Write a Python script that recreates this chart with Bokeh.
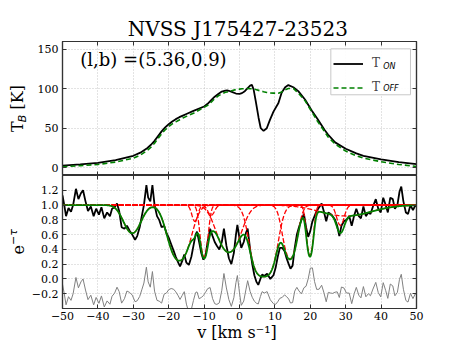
import numpy as np
from bokeh.plotting import figure
from bokeh.layouts import column, row
from bokeh.models import (Label, Legend, LegendItem, LinearAxis, FixedTicker,
                          CustomJSTickFormatter, Range1d, BoxAnnotation)
from bokeh.embed import file_html
from bokeh.resources import INLINE

# ---------------- data ----------------
title_text = "NVSS J175427-23523"
coord_text = "(l,b) =(5.36,0.9)"

# emission spectra (top panel)
v_em = [-50, -45, -40, -35, -30, -28, -26, -25, -24, -23, -22, -21, -20, -19, -18, -17,
        -16, -15, -13, -10, -9, -8, -7, -6, -5, -4, -3.5, -3, -2, -1, 0, 0.7, 1.5, 2.1,
        3, 3.5, 4, 4.6, 5.4, 6, 6.8, 7.7, 8.6, 9.6, 11, 11.9, 12.9, 13.8, 15.2, 16.6,
        18.5, 20.4, 22, 24, 25, 27, 30, 33, 35, 40, 45, 50]
t_on = [2.5, 4, 6, 9.5, 15, 19, 25, 29, 34, 40, 46, 51, 55, 58.5, 61.5, 64,
        66, 68, 72, 77.5, 81, 85.5, 90, 93.5, 96.5, 97.8, 98, 97.5, 95.8, 94, 93.5, 94.5, 97, 100,
        104, 105, 99, 84, 63, 50, 46.6, 50, 60.6, 71, 82, 95, 102, 104.7, 102, 97,
        86.4, 72.5, 62, 48, 42, 32, 24, 18, 15, 10.5, 7, 4.5]
t_off = [1, 2.5, 4, 7, 12, 16, 22, 26, 31, 37, 43, 48, 52, 55.5, 58, 60.5,
         63, 65, 69, 76.5, 79, 83, 87.5, 91, 93.5, 95.5, 96, 96.6, 97.8, 99, 99.6, 100, 100.2, 100.3,
         100, 100, 99.6, 99, 98, 97.2, 96.3, 95.3, 94.7, 94.5, 94.5, 96, 98.7, 100.3, 100.5, 94.5,
         85, 71, 59, 46, 39, 30, 21, 15, 12, 7.5, 4, 1.5]

# absorption spectrum e^-tau (bottom panel)
v_abs = [-50.0, -49.5, -49.0, -48.3, -47.6, -47.0, -46.2, -45.5, -44.8, -44.2, -43.5, -42.8,
         -42.0, -41.2, -40.5, -39.7, -39.0, -38.2, -37.4, -36.6, -36.0, -35.3, -34.6, -34.0,
         -33.3, -32.5, -31.8, -31.0, -30.3, -29.5, -28.9, -28.2, -27.6, -27.0, -26.3, -25.8,
         -25.2, -24.6, -24.0, -23.3, -22.7, -22.0, -21.3, -20.6, -20.0, -19.3, -18.6, -18.0,
         -17.3, -16.8, -16.2, -15.6, -15.0, -14.3, -13.6, -13.0, -12.4, -12.0, -11.4, -10.8,
         -10.2, -9.6, -9.0, -8.3, -7.6, -7.0, -6.4, -5.7, -5.0, -4.4, -3.7, -3.0,
         -2.3, -1.6, -1.0, -0.6, 0.0, 0.5, 1.2, 1.8, 2.3, 3.0, 3.6, 4.2,
         4.8, 5.3, 5.9, 6.4, 7.0, 7.8, 8.7, 9.6, 10.2, 10.8, 11.4, 12.1,
         12.7, 13.3, 13.9, 14.4, 15.0, 15.6, 16.2, 16.8, 17.5, 18.2, 18.8, 19.4,
         20.0, 20.6, 21.2, 21.8, 22.5, 23.2, 23.8, 24.5, 25.1, 25.7, 26.3, 27.0,
         27.6, 28.2, 28.8, 29.5, 30.2, 31.0, 31.7, 32.4, 33.0, 33.7, 34.3, 35.0,
         35.7, 36.4, 37.0, 37.7, 38.5, 39.2, 39.9, 40.6, 41.3, 41.9, 42.6, 43.3,
         43.9, 44.6, 45.2, 45.7, 46.3, 47.0, 47.6, 48.3, 49.0, 49.7, 50.0]
e_tau = [1.13, 1.00, 0.85, 0.96, 0.91, 1.00, 1.22, 1.08, 1.16, 1.20, 1.05, 0.92,
         0.98, 0.85, 0.95, 0.87, 0.97, 0.82, 0.90, 0.85, 0.95, 0.97, 1.02, 0.92,
         0.70, 0.68, 0.72, 0.65, 0.60, 0.53, 0.58, 0.70, 0.85, 1.00, 1.27, 1.10,
         1.05, 1.27, 1.00, 0.85, 0.80, 0.70, 0.72, 0.62, 0.56, 0.47, 0.38, 0.30,
         0.22, 0.17, 0.24, 0.33, 0.22, 0.19, 0.30, 0.45, 0.60, 0.64, 0.50, 0.35,
         0.26, 0.32, 0.50, 0.68, 0.58, 0.50, 0.45, 0.40, 0.50, 0.68, 0.45, 0.28,
         0.20, 0.35, 0.60, 0.73, 0.55, 0.42, 0.50, 0.62, 0.68, 0.40, 0.20, 0.05,
         -0.04, -0.08, 0.00, 0.06, 0.04, 0.07, 0.00, 0.05, 0.15, 0.30, 0.42, 0.42,
         0.38, 0.28, 0.20, 0.14, 0.18, 0.42, 0.60, 0.70, 0.80, 0.88, 0.70, 0.57,
         0.65, 0.78, 0.85, 0.92, 0.97, 1.02, 0.92, 0.78, 0.90, 0.88, 0.85, 0.80,
         0.72, 0.58, 0.72, 0.78, 0.80, 0.85, 0.72, 0.86, 0.95, 0.85, 0.82, 0.98,
         0.85, 0.90, 0.88, 0.98, 1.08, 0.95, 0.90, 1.10, 1.00, 0.90, 1.10, 1.08,
         0.95, 1.00, 1.18, 1.25, 1.05, 0.90, 0.88, 1.00, 0.93, 1.00, 0.98]

# Gaussian components of the fit: centre [km/s], peak optical depth, dispersion [km/s]
comp_v0 = [-30.3, -17.0, -12.6, -10.0, -8.0, -3.0, 6.8, 14.3, 19.9, 28.5, 30.0]
comp_tau = [0.48, 1.40, 0.25, 1.20, 0.15, 1.02, 3.5, 1.30, 1.14, 0.32, 0.16]
comp_sig = [2.2, 2.5, 0.8, 0.9, 0.9, 2.8, 2.3, 1.6, 0.8, 1.0, 7.0]
resid_offset = -0.2

x_ticks = [-50, -40, -30, -20, -10, 0, 10, 20, 30, 40, 50]
y_ticks_top = [0, 50, 100, 150]
y_ticks_bot = [-0.2, 0.0, 0.2, 0.4, 0.6, 0.8, 1.0, 1.2]

# ---------------- derived curves ----------------
def comp_profile(v, a, c, s):
    return a * np.exp(-0.5 * ((v - c) / s) ** 2)

def fit_at(v):
    v = np.asarray(v, dtype=float)
    tau = np.zeros_like(v)
    for a, c, s in zip(comp_tau, comp_v0, comp_sig):
        tau += comp_profile(v, a, c, s)
    return np.exp(-tau)

vgrid = np.linspace(-50, 50, 1001)
fit_curve = fit_at(vgrid)
resid = np.array(e_tau) - fit_at(v_abs) + resid_offset

# ---------------- styling helpers ----------------
SERIF = "DejaVu Serif"
SANS = "DejaVu Sans"
AX = "#333333"
TOTAL_H = 345
STRIP_W = 28
MAIN_W = 422

x_fmt = CustomJSTickFormatter(code="""
    return (tick < 0 ? "\u2212" : "") + Math.abs(tick).toFixed(0);
""")
y_fmt_bot = CustomJSTickFormatter(code="""
    var t = Math.round(tick * 10) / 10;
    return (t < 0 ? "\u2212" : "") + Math.abs(t).toFixed(1);
""")


def style_axis(ax, ticks, show, fmt=None, standoff=5):
    ax.ticker = FixedTicker(ticks=ticks)
    ax.major_tick_in = 4
    ax.major_tick_out = 0
    ax.minor_tick_line_color = None
    ax.axis_line_color = AX
    ax.axis_line_width = 1.2
    ax.major_tick_line_color = AX
    ax.major_tick_line_width = 1
    if show:
        ax.major_label_text_font = SERIF
        ax.major_label_text_font_size = "11px"
        ax.major_label_text_color = "black"
        ax.major_label_text_font_style = "normal"
        ax.major_label_standoff = standoff
        if fmt is not None:
            ax.formatter = fmt
    else:
        ax.major_label_text_font_size = "0px"
        ax.major_label_text_color = None
        ax.major_label_standoff = 0


def make_fig(height, yr, yticks, yfmt, show_x, bb):
    p = figure(width=MAIN_W, height=height, x_range=Range1d(-50, 50), y_range=yr,
               output_backend="svg", toolbar_location=None,
               min_border_left=30, min_border_right=34,
               min_border_top=0, min_border_bottom=bb)
    p.background_fill_color = "white"
    p.border_fill_color = "white"
    p.outline_line_color = AX
    p.outline_line_width = 1.2
    style_axis(p.xaxis[0], x_ticks, show_x, x_fmt, standoff=3)
    style_axis(p.yaxis[0], yticks, True, yfmt, standoff=4)
    top = LinearAxis()
    style_axis(top, x_ticks, False)
    right = LinearAxis()
    style_axis(right, yticks, False)
    p.add_layout(top, "above")
    p.add_layout(right, "right")
    for g, t in ((p.xgrid[0], x_ticks), (p.ygrid[0], yticks)):
        g.ticker = FixedTicker(ticks=t)
        g.grid_line_color = "#b8b8b8"
        g.grid_line_dash = "1 2"
        g.grid_line_width = 0.8
    return p


def text_fig(w, h, x0):
    # a plain canvas for texts lying outside the plotting frames (pixel units)
    f = figure(width=w, height=h, x_range=Range1d(x0, x0 + w), y_range=Range1d(0, h),
               output_backend="svg", toolbar_location=None, min_border=0,
               x_axis_type=None, y_axis_type=None)
    f.outline_line_color = None
    f.background_fill_color = "white"
    f.border_fill_color = "white"
    return f


def lab(p, **kw):
    kw.setdefault("text_baseline", "alphabetic")
    kw.setdefault("text_color", "black")
    p.add_layout(Label(level="overlay", **kw))


# ---------------- top panel ----------------
p1 = make_fig(134, Range1d(-10, 160), y_ticks_top, None, False, 0)

# legend frame (white box) drawn beneath the legend entries
p1.add_layout(BoxAnnotation(left=25.8, right=48.3, bottom=92.4, top=150.7,
                            fill_color="white", fill_alpha=0.9,
                            line_color="#c8c8c8", line_width=1, line_alpha=1.0))

r_on = p1.line(v_em, t_on, line_color="black", line_width=1.8)
r_off = p1.line(v_em, t_off, line_color="green", line_width=1.6, line_dash="5 3")

legend = Legend(items=[LegendItem(label="T", renderers=[r_on]),
                       LegendItem(label="T", renderers=[r_off])],
                location=(271, 80.7))
legend.label_text_font = SERIF
legend.label_text_font_size = "12px"
legend.glyph_width = 30
legend.glyph_height = 13
legend.label_height = 13
legend.label_width = 32
legend.label_standoff = 9
legend.padding = 5
legend.spacing = 10
legend.margin = 0
legend.border_line_color = None
legend.background_fill_alpha = 0
p1.add_layout(legend)

lab(p1, x=40.6, y=128.3, text="ON", text_font=SANS, text_font_style="italic", text_font_size="8px")
lab(p1, x=40.6, y=101.0, text="OFF", text_font=SANS, text_font_style="italic", text_font_size="8px")
lab(p1, x=-44.97, y=137.0, text=coord_text, text_font=SERIF, text_font_size="18px")

# ---------------- bottom panel ----------------
p2 = make_fig(149, Range1d(-0.4, 1.4), y_ticks_bot, y_fmt_bot, True, 16)
p2.x_range = p1.x_range
p2.line(v_abs, e_tau, line_color="black", line_width=1.8)
p2.line(v_abs, resid, line_color="gray", line_width=1)
for a, c, s in zip(comp_tau, comp_v0, comp_sig):
    p2.line(vgrid, np.exp(-comp_profile(vgrid, a, c, s)), line_color="red",
            line_width=1.3, line_dash="5 2")
p2.line(vgrid, fit_curve, line_color="green", line_width=1.8)

# ---------------- texts outside the frames ----------------
title_fig = text_fig(MAIN_W, 41, STRIP_W)
lab(title_fig, x=237, y=12.3, text=title_text, text_font=SERIF, text_font_size="20px",
    text_align="center")

xlab_fig = text_fig(MAIN_W, 21, STRIP_W)
lab(xlab_fig, x=236, y=12.6, text="v [km s\u207b\u00b9]", text_font=SERIF,
    text_font_size="16px", text_align="center")

strip = text_fig(STRIP_W, TOTAL_H, 0)
# T_B [K]
lab(strip, x=17.4, y=TOTAL_H - 131.5, text="T", angle=np.pi / 2, text_font=SERIF, text_font_size="16px")
lab(strip, x=22.1, y=TOTAL_H - 121.7, text="B", angle=np.pi / 2, text_font=SANS,
    text_font_style="italic", text_font_size="11px")
lab(strip, x=17.4, y=TOTAL_H - 109.0, text="[K]", angle=np.pi / 2, text_font=SERIF, text_font_size="16px")
# e^-tau
lab(strip, x=17.4, y=TOTAL_H - 254.0, text="e", angle=np.pi / 2, text_font=SERIF, text_font_size="16px")
lab(strip, x=13.1, y=TOTAL_H - 244.5, text="\u2212\u03c4", angle=np.pi / 2, text_font=SANS,
    text_font_style="italic", text_font_size="11px")

layout = row(strip, column(title_fig, p1, p2, xlab_fig))
open("out.html", "w").write(file_html(layout, INLINE))
